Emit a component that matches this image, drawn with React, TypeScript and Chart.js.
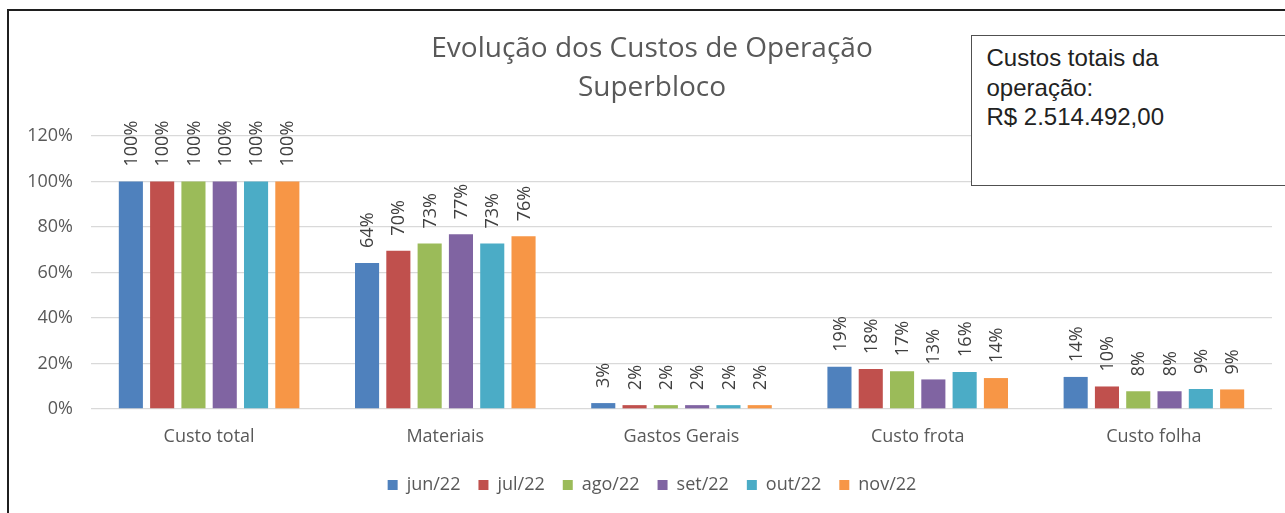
import React, { useEffect, useRef } from "react";
import { Chart, registerables } from "chart.js";

Chart.register(...registerables);

const titleLines = ["Evolução dos Custos de Operação", "Superbloco"];
const categories = ["Custo total", "Materiais", "Gastos Gerais", "Custo frota", "Custo folha"];
const months = ["jun/22", "jul/22", "ago/22", "set/22", "out/22", "nov/22"];
const jun22 = [100, 64.2, 2.6, 18.6, 14.1];
const jul22 = [100, 69.6, 1.7, 17.6, 9.9];
const ago22 = [100, 72.7, 1.7, 16.6, 7.8];
const set22 = [100, 76.8, 1.7, 13.0, 7.8];
const out22 = [100, 72.7, 1.7, 16.3, 8.8];
const nov22 = [100, 75.9, 1.7, 13.6, 8.6];
const seriesValues = [jun22, jul22, ago22, set22, out22, nov22];
const seriesColors = ["#4F81BD", "#C0504D", "#9BBB59", "#8064A2", "#4BACC6", "#F79646"];
const yTicks = [0, 20, 40, 60, 80, 100, 120];
const boxLines = ["Custos totais da", "operação:", "R$ 2.514.492,00"];

const FONT = "'Open Sans', 'Noto Sans', sans-serif";

const valueLabels = {
  id: "valueLabels",
  afterDatasetsDraw(chart: any) {
    const ctx = chart.ctx;
    ctx.save();
    ctx.font = `18px ${FONT}`;
    ctx.fillStyle = "#404040";
    chart.data.datasets.forEach((ds: any, i: number) => {
      const meta = chart.getDatasetMeta(i);
      meta.data.forEach((bar: any, j: number) => {
        const v = ds.data[j];
        ctx.save();
        ctx.translate(bar.x + 1, bar.y - 15);
        ctx.rotate(-Math.PI / 2);
        ctx.textAlign = "left";
        ctx.textBaseline = "middle";
        ctx.fillText(`${Math.round(v)}%`, 0, 0);
        ctx.restore();
      });
    });
    ctx.restore();
  },
};

export default function App() {
  const canvasRef = useRef<HTMLCanvasElement | null>(null);

  useEffect(() => {
    if (!canvasRef.current) return;
    const chart = new Chart(canvasRef.current, {
      type: "bar",
      data: {
        labels: categories,
        datasets: months.map((m, i) => ({
          label: m,
          data: seriesValues[i],
          backgroundColor: seriesColors[i],
          borderWidth: 0,
          categoryPercentage: 0.795,
          barPercentage: 0.77,
          yAxisID: "y",
        })),
      },
      options: {
        animation: false,
        responsive: false,
        maintainAspectRatio: false,
        layout: { padding: { left: 0, right: 0, top: 0, bottom: 36 } },
        plugins: {
          tooltip: { enabled: false },
          title: {
            display: true,
            text: titleLines,
            color: "#595959",
            font: { family: FONT, size: 28, weight: "normal", lineHeight: 39 / 28 },
            padding: { top: 30, bottom: 28 },
          },
          legend: {
            position: "bottom",
            labels: {
              color: "#595959",
              font: { family: FONT, size: 18 },
              boxWidth: 10,
              boxHeight: 10,
              padding: 18,
            },
          },
        },
        scales: {
          x: {
            grid: { display: false, drawTicks: false },
            border: { display: false },
            ticks: { color: "#595959", font: { family: FONT, size: 18 }, padding: 17 },
            afterFit: (s: any) => {
              s.height = 49;
            },
          },
          y: {
            min: 0,
            max: 120,
            afterBuildTicks: (s: any) => {
              s.ticks = yTicks.map((v) => ({ value: v }));
            },
            grid: { color: "#D9D9D9", lineWidth: 1.3, drawTicks: false },
            border: { display: false },
            ticks: {
              color: "#595959",
              font: { family: FONT, size: 18 },
              padding: 18,
              callback: (v: any) => `${v}%`,
            },
            afterFit: (s: any) => {
              s.width = 91;
            },
          },
          yRight: {
            position: "right",
            min: 0,
            max: 120,
            grid: { display: false, drawTicks: false },
            border: { display: false },
            ticks: { display: false },
            afterFit: (s: any) => {
              s.width = 32;
            },
          },
        },
      },
      plugins: [valueLabels],
    } as any);
    return () => chart.destroy();
  }, []);

  return (
    <div
      style={{
        position: "fixed",
        left: 0,
        top: 0,
        width: 1285,
        height: 513,
        overflow: "hidden",
        background: "#fff",
      }}
    >
      <canvas ref={canvasRef} width={1304} height={540} style={{ width: 1304, height: 540, display: "block" }} />
      <div
        style={{
          position: "absolute",
          left: 7,
          top: 9,
          width: 1400,
          height: 600,
          borderLeft: "2.5px solid #1f1f1f",
          borderTop: "2px solid #1f1f1f",
          pointerEvents: "none",
        }}
      />
      <div
        style={{
          position: "absolute",
          left: 971,
          top: 35,
          width: 340,
          height: 142,
          border: "1.5px solid #505050",
          background: "#fff",
          boxSizing: "content-box",
          paddingLeft: 14.5,
          paddingTop: 7,
          fontFamily: "'Liberation Sans', Arial, sans-serif",
          fontSize: 24,
          lineHeight: "29.5px",
          color: "#222",
        }}
      >
        {boxLines.map((l, i) => (
          <div key={i}>{l}</div>
        ))}
      </div>
    </div>
  );
}
